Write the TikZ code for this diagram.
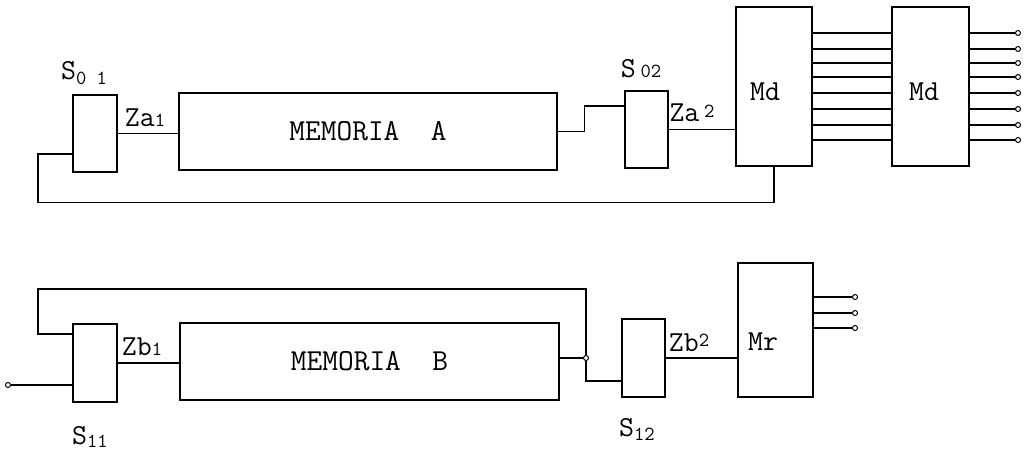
\documentclass[tikz,border=0pt]{standalone}
\usepackage{fontspec}
\usetikzlibrary{calc}
\newcommand{\idx}[2][0pt]{\raisebox{#1}{\fontsize{20}{22}\selectfont #2}}
\begin{document}
\begin{tikzpicture}[
    x=1pt, y=-1pt,
    every node/.style={font=\ttfamily\fontsize{29}{32}\selectfont},
    blk/.style={rectangle, draw=black, line width=1.8pt, inner sep=0pt},
    memtext/.style={font=\ttfamily\fontsize{30.5}{33}\selectfont},
    wire/.style={draw, line width=1.1pt},
    term/.style={circle, draw=black, line width=1pt, fill=white,
                 inner sep=0pt, minimum size=5pt}
]
\useasboundingbox (0,0) rectangle (1034,452);

% upper chain
\node[blk, minimum width=44pt, minimum height=77pt] (s01) at (95,133.5) {};
\node[blk, memtext, minimum width=378pt, minimum height=77pt] (mema) at (368,131.5) {MEMORIA\ \ A};
\node[blk, minimum width=43pt, minimum height=77pt] (s02) at (646.5,129.5) {};
\node[blk, minimum width=76pt, minimum height=159pt] (md1) at (774,86.5) {};
\node[blk, minimum width=77pt, minimum height=159pt] (md2) at (930.5,86.5) {};
\node (md1t) at (765,92) {Md};
\node (md2t) at (924,92) {Md};
\node (s01l) at (84,73) {S\idx[-5pt]{0 1}};
\node (za1) at (145,118) {Za\idx{1}};
\node (s02l) at (641,69) {S\,\idx{02}};
\node (za2) at (692,113) {Za\,\idx[4pt]{2}};

\draw[wire] (s01.east) -- (s01.east -| mema.west);
\draw[wire] (mema.east) -- ++(27,0) |- (s02.west |- 0,106);
\draw[wire] (s02.east) -- (s02.east -| md1.west);
\draw[wire] (md1.south) -- ++(0,36) -| (38,154) -- (s01.west |- 0,154);
\foreach \y [count=\i] in {33,49,63,77,93,109,125,140} {
    \draw[wire] (md1.east |- 0,\y) -- (md2.west |- 0,\y);
    \node[term] (d\i) at (1018,\y) {};
    \draw[wire] (md2.east |- d\i) -- (d\i);
}

% lower chain
\node[blk, minimum width=44pt, minimum height=78pt] (s11) at (95,363) {};
\node[blk, memtext, minimum width=379pt, minimum height=77pt] (memb) at (369.5,361.5) {MEMORIA\ \ B};
\node[blk, minimum width=43pt, minimum height=78pt] (s12) at (643.5,358) {};
\node[blk, minimum width=75pt, minimum height=134pt] (mr) at (775.5,330) {};
\node (mrt) at (763,342) {Mr};
\node (s11l) at (90,437) {S\idx[-3pt]{11}};
\node (zb1) at (142,347) {Zb\idx{1}};
\node (s12l) at (637,429) {S\idx[-4pt]{12}};
\node (zb2) at (689,343) {Zb\idx[5pt]{2}};

\node[term] (inp) at (8,385) {};
\node[term] (jn) at (586,358) {};
\draw[wire] (inp) -- (s11.west |- inp);
\draw[wire] (s11.east) -- (s11.east -| memb.west);
\draw[wire] (memb.east |- jn) -- (jn);
\draw[wire] (jn) |- (s12.west |- 0,381);
\draw[wire] (jn) -- (jn |- 0,289) -| (38,334) -- (s11.west |- 0,334);
\draw[wire] (s12.east) -- (s12.east -| mr.west);
\foreach \y [count=\i] in {297,313,328} {
    \node[term] (r\i) at (855,\y) {};
    \draw[wire] (mr.east |- r\i) -- (r\i);
}
\end{tikzpicture}
\end{document}
